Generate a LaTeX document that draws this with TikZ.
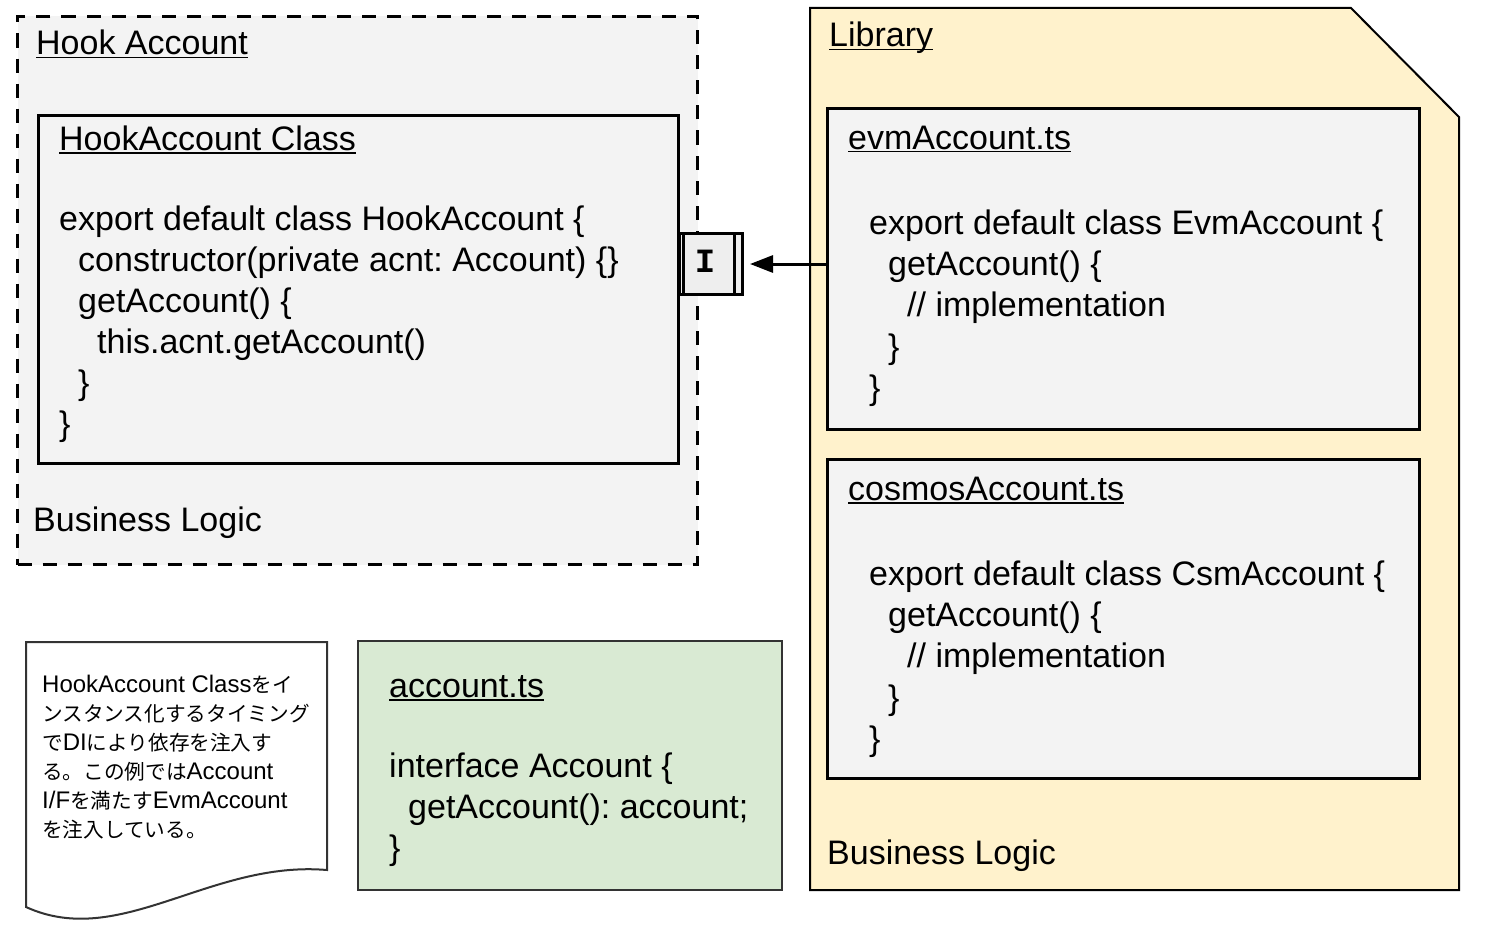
\documentclass[tikz,border=0pt]{standalone}
\usepackage{fontspec}
\setmainfont{Liberation Sans}
\newfontfamily\cjk[Scale=0.86]{Noto Sans CJK JP}
\newfontfamily\ifont{Liberation Mono}
\usetikzlibrary{arrows.meta}
\frenchspacing
\newcommand\ulx[1]{\setbox0\hbox{#1}\rlap{\rule[-3.5pt]{\wd0}{1.8pt}}\box0}
\definecolor{boxgray}{HTML}{F3F3F3}
\definecolor{ifgray}{HTML}{EEEEEE}
\definecolor{libyellow}{HTML}{FFF2CC}
\definecolor{accgreen}{HTML}{D9EAD3}
\definecolor{edgegray}{HTML}{333333}
\begin{document}
\begin{tikzpicture}[x=1pt,y=-1pt,
  txt/.style={anchor=base west, inner sep=0pt, font=\fontsize{34}{41}\selectfont},
  notetxt/.style={anchor=base west, inner sep=0pt, font=\fontsize{24}{29}\selectfont},
  framebox/.style={rectangle, anchor=north west, inner sep=0pt, draw=black, line width=3pt, fill=boxgray},
  hookbox/.style={rectangle, anchor=north west, inner sep=0pt, draw=black, line width=3pt, dash pattern=on 14pt off 11pt, fill=boxgray},
  accbox/.style={rectangle, anchor=north west, inner sep=0pt, draw=edgegray, line width=2pt, fill=accgreen},
  ifbox/.style={rectangle, anchor=north west, inner sep=0pt, draw=black, line width=3pt, fill=ifgray},
  conn/.style={line width=3pt, -{Triangle[length=23pt,width=17pt]}}
]
\useasboundingbox (0,0) rectangle (1492,942);

% Hook Account group
\node[hookbox, minimum width=680pt, minimum height=548pt] (hook) at (16,15) {};
\node[txt] (hooktitle) at (36,55) {\ulx{Hook Account}};
\node[framebox, minimum width=640pt, minimum height=348pt] (hclass) at (37,114) {};
\node[txt] (hctitle) at (59,150) {\ulx{HookAccount Class}};
\node[txt] (hc1) at (59,230) {export default class HookAccount \{};
\node[txt] (hc2) at (78,271) {constructor(private acnt: Account) \{\}};
\node[txt] (hc3) at (78,312) {getAccount() \{};
\node[txt] (hc4) at (97,353) {this.acnt.getAccount()};
\node[txt] (hc5) at (78,394) {\}};
\node[txt] (hc6) at (59,435) {\}};
\node[txt] (hookbl) at (33,531) {Business Logic};

% Library
\draw[fill=libyellow, draw=black, line width=2pt] (810,8) -- (1351,8) -- (1459,117) -- (1459,890) -- (810,890) -- cycle;
\node[txt] (libtitle) at (829,47) {\ulx{Library}};
\node[framebox, minimum width=592pt, minimum height=321pt] (evm) at (826,107) {};
\node[txt] (evmtitle) at (848,149) {\ulx{evmAccount.ts}};
\node[txt] (ev1) at (869,234) {export default class EvmAccount \{};
\node[txt] (ev2) at (888,275) {getAccount() \{};
\node[txt] (ev3) at (907,316) {// implementation};
\node[txt] (ev4) at (888,358) {\}};
\node[txt] (ev5) at (869,399) {\}};
\node[framebox, minimum width=592pt, minimum height=319pt] (csm) at (826,458) {};
\node[txt] (csmtitle) at (848,500) {\ulx{cosmosAccount.ts}};
\node[txt] (cs1) at (869,585) {export default class CsmAccount \{};
\node[txt] (cs2) at (888,626) {getAccount() \{};
\node[txt] (cs3) at (907,667) {// implementation};
\node[txt] (cs4) at (888,709) {\}};
\node[txt] (cs5) at (869,750) {\}};
\node[txt] (libbl) at (827,864) {Business Logic};

% interface symbol
\node[ifbox, minimum width=63pt, minimum height=61pt] (ibox) at (678,232) {};
\draw[line width=3pt] ([xshift=5pt]ibox.north west) -- ([xshift=5pt]ibox.south west);
\draw[line width=3pt] ([xshift=-10pt]ibox.north east) -- ([xshift=-10pt]ibox.south east);
\node[inner sep=0pt, font=\ifont\bfseries\fontsize{34}{34}\selectfont] (ilabel) at (705,261) {I};

% connector
\draw[conn, shorten >=6pt] (evm.west |- ibox.east) -- (ibox.east);

% account.ts
\node[accbox, minimum width=424pt, minimum height=249pt] (acc) at (357,640) {};
\node[txt] (acctitle) at (389,697) {\ulx{account.ts}};
\node[txt] (ac1) at (389,777) {interface Account \{};
\node[txt] (ac2) at (408,818) {getAccount(): account;};
\node[txt] (ac3) at (389,859) {\}};

% note
\draw[fill=white, draw=edgegray, line width=2pt] (26,642) -- (327,642) -- (327,870) .. controls (210,860) and (120,950) .. (26,907) -- cycle;
\node[notetxt] (n1) at (42,692) {HookAccount Class{\cjk をイ}};
\node[notetxt] (n2) at (42,721) {{\cjk ンスタンス化するタイミング}};
\node[notetxt] (n3) at (42,750) {{\cjk で}DI{\cjk により依存を注入す}};
\node[notetxt] (n4) at (42,779) {{\cjk る。この例では}Account};
\node[notetxt] (n5) at (42,808) {I/F{\cjk を満たす}EvmAccount};
\node[notetxt] (n6) at (42,837) {{\cjk を注入している。}};
\end{tikzpicture}
\end{document}
